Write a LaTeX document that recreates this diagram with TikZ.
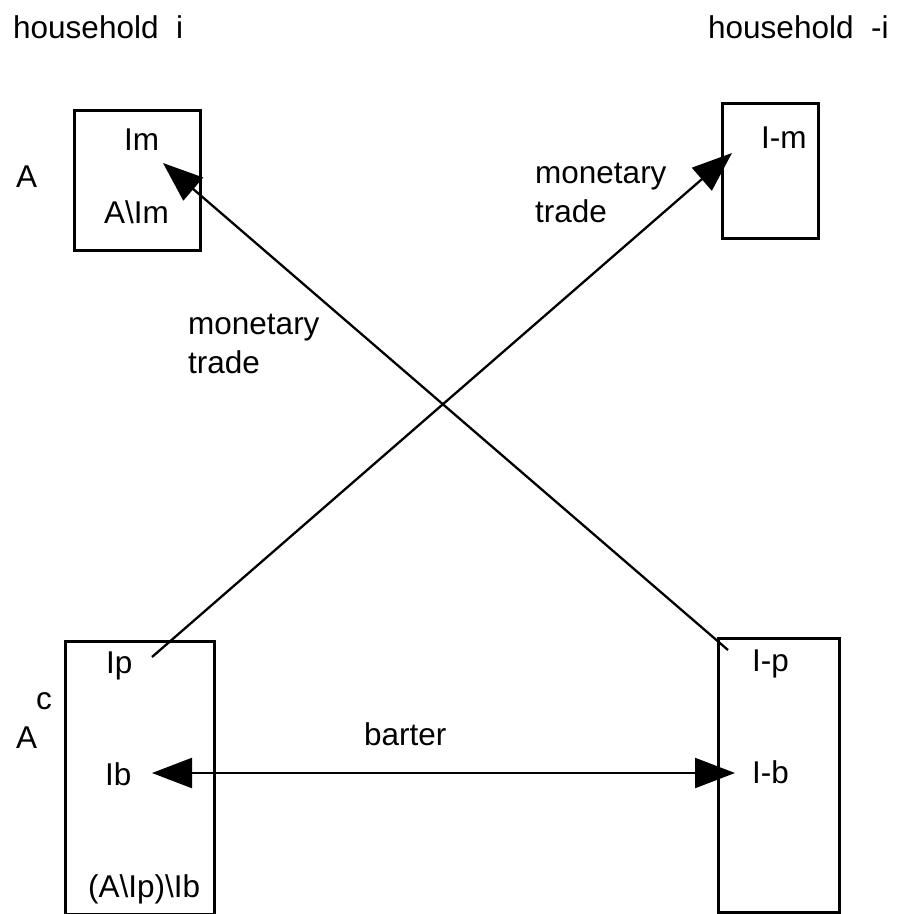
\documentclass[tikz,border=0pt]{standalone}
\usepackage{fontspec}
\setmainfont{Liberation Sans}
\usetikzlibrary{arrows.meta}
\begin{document}
\begin{tikzpicture}[x=1pt,y=-1pt,
  lbl/.style={anchor=base west,inner sep=0pt,font=\fontsize{31.5}{39}\selectfont},
  box/.style={draw,line width=2.6pt,anchor=north west,inner sep=0pt},
  conn/.style={line width=2.3pt,-{Triangle[length=40pt,width=30pt]}},
  both/.style={line width=2.3pt,{Triangle[length=40pt,width=30pt]}-{Triangle[length=40pt,width=30pt]}}]
\useasboundingbox (0,0) rectangle (898,914);
% boxes
\node[box,minimum width=126pt,minimum height=140pt] (bim) at (73,109) {};
\node[box,minimum width=96pt,minimum height=135pt] (bmi) at (721,102) {};
\node[box,minimum width=149pt,minimum height=273pt] (bip) at (64,640) {};
\node[box,minimum width=121pt,minimum height=274pt] (bmp) at (717,637) {};
% texts
\node[lbl] (h1) at (13,38) {household\ \ i};
\node[lbl] (h2) at (708,38) {household\ \ -i};
\node[lbl] (A1) at (16,187) {A};
\node[lbl] (Im) at (124,150) {Im};
\node[lbl] (AIm) at (104,223) {A\textbackslash Im};
\node[lbl] (Imm) at (761,148) {I-m};
\node[lbl,align=left] (mt1) at (535,222) {monetary\\trade};
\node[lbl,align=left] (mt2) at (188,373) {monetary\\trade};
\node[lbl] (Ip) at (106,673) {Ip};
\node[lbl] (c) at (36,709) {c};
\node[lbl] (A2) at (16,748) {A};
\node[lbl] (Ib) at (105,785) {Ib};
\node[lbl] (AIpIb) at (88,897) {(A\textbackslash Ip)\textbackslash Ib};
\node[lbl] (Imp) at (752,671) {I-p};
\node[lbl] (Imb) at (752,783) {I-b};
\node[lbl] (bar) at (364,745) {barter};
% connector ends
\coordinate (pstart) at (152,657);
\coordinate (mtip) at (732,153);
\coordinate (qstart) at (728,650);
\coordinate (imtip) at (163,163);
\coordinate (btl) at (152,773);
\coordinate (btr) at (735,773);
\draw[conn] (pstart) -- (mtip);
\draw[conn] (qstart) -- (imtip);
\draw[both] (btl) -- (btr);
\end{tikzpicture}
\end{document}
